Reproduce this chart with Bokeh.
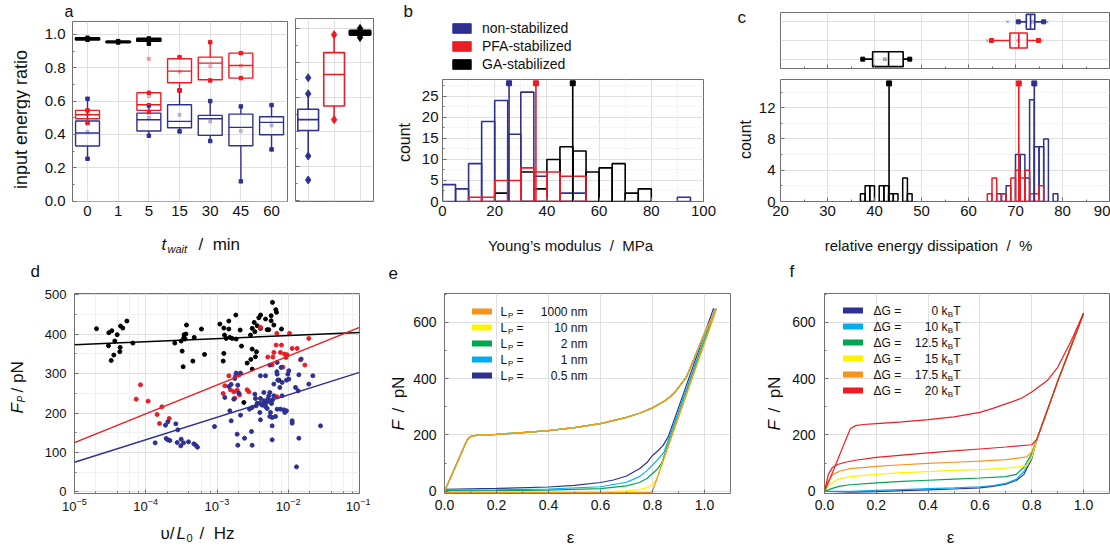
import numpy as np
from math import pi
from bokeh.plotting import figure
from bokeh.layouts import row, column
from bokeh.models import (Range1d, FixedTicker, PrintfTickFormatter, Label, Legend, LegendItem,
                          CustomJSTickFormatter, LogTicker, ColumnDataSource)
from bokeh.embed import file_html
from bokeh.resources import INLINE

FONT = "Liberation Sans"
BLUE = "#2e3192"; RED = "#ed1c24"; BLACK = "#000000"
ORANGE = "#f7941d"; YELLOW = "#fff200"; GREEN = "#00a651"; LBLUE = "#00aeef"
GRID = "#e0e0e0"; MINOR = "#ececec"; OUTLINE = "#707070"; TXT = "#111111"
NB = "\u00a0"

# ---------------- data: panel a (input energy ratio box plots) ----------------
tw_labels = ["0", "1", "5", "15", "30", "45", "60"]
a_blue_cat = [0, 2, 3, 4, 5, 6]
a_blue_q1 = [0.330, 0.420, 0.440, 0.394, 0.332, 0.398]
a_blue_med = [0.408, 0.488, 0.478, 0.494, 0.442, 0.472]
a_blue_q3 = [0.480, 0.528, 0.578, 0.514, 0.522, 0.506]
a_blue_lo = [0.254, 0.392, 0.418, 0.360, 0.118, 0.310]
a_blue_hi = [0.614, 0.574, 0.664, 0.600, 0.568, 0.576]
a_blue_mean = [0.414, 0.500, 0.518, 0.478, 0.420, 0.454]
a_red_cat = [0, 2, 3, 4, 5]
a_red_q1 = [0.494, 0.544, 0.710, 0.728, 0.738]
a_red_med = [0.518, 0.578, 0.780, 0.828, 0.814]
a_red_q3 = [0.544, 0.650, 0.854, 0.864, 0.888]
a_red_lo = [0.468, 0.534, 0.664, 0.724, 0.738]
a_red_hi = [0.544, 0.650, 0.864, 0.954, 0.888]
a_red_mean = [0.520, 0.630, 0.776, 0.810, 0.812]
a_red_out_cat = [2]
a_red_out = [0.854]
a_blk_cat = [0, 1, 2]
a_blk_q1 = [0.968, 0.952, 0.960]
a_blk_med = [0.974, 0.956, 0.968]
a_blk_q3 = [0.980, 0.960, 0.976]
a_blk_lo = [0.968, 0.952, 0.944]
a_blk_hi = [0.980, 0.960, 0.976]
# pooled (side panel): blue, red, black
s_q1 = [0.406, 0.548, 0.962]
s_med = [0.469, 0.731, 0.973]
s_q3 = [0.529, 0.858, 0.985]
s_lo = [0.258, 0.469, 0.946]
s_hi = [0.619, 0.962, 0.998]
s_out_x = [0, 0]
s_out_y = [0.712, 0.119]

# ---------------- data: panel b (Young's modulus histograms, bin 5 MPa) ----------------
b_bin = 5
b_blue_edges = [0, 5, 10, 15, 20, 25, 30, 35, 45, 50, 90]
b_blue_counts = [4, 3, 9, 19, 24, 16, 26, 6, 2, 2, 1]
b_red_edges = [10, 15, 20, 25, 30, 35, 40, 45, 50]
b_red_counts = [1, 1, 5, 5, 8, 7, 7, 6, 6]
b_blk_edges = [20, 30, 35, 40, 45, 50, 55, 60, 65, 70, 75]
b_blk_counts = [2, 7, 3, 10, 13, 12, 7, 8, 9, 2, 3]
b_means = [25.5, 35.8, 49.9]
b_mean_top = 28.1
legend_names = ["non-stabilized", "PFA-stabilized", "GA-stabilized"]

# ---------------- data: panel c (energy dissipation, bin 1 %) ----------------
c_bin = 1
c_blk_edges = [37, 38, 39, 41, 42, 43, 44, 46, 47]
c_blk_counts = [1, 2, 2, 2, 2, 1, 1, 3, 1]
c_blue_edges = [66, 67, 68, 70, 71, 72, 73, 74, 75, 76, 78]
c_blue_counts = [1, 1, 2, 6, 6, 3, 13, 7, 7, 8, 1]
c_red_edges = [64, 65, 67, 69, 70, 71, 72, 73, 74, 75]
c_red_counts = [1, 3, 1, 3, 4, 3, 4, 1, 1, 2]
c_means = [74.0, 70.7, 43.1]          # blue, red, black
c_mean_top = 15.1
cb_row = [3, 2, 1]
cb_lo = [70.6, 64.9, 37.5]
cb_q1 = [72.3, 68.8, 39.6]
cb_med = [73.2, 70.7, 43.0]
cb_q3 = [74.1, 72.5, 46.1]
cb_hi = [76.0, 74.9, 47.5]
cb_mean = [73.6, 70.6, 42.2]
cb_xmin = [68.3, 64.0]
cb_xmax = [76.7, 75.6]

# ---------------- data: panel d (F_P vs v/L0) ----------------
d_blk_logx = [-4.691, -4.518, -4.476, -4.434, -4.401, -4.354, -4.322, -4.265, -4.523, -4.448, -4.485,
              -4.359, -4.364, -4.181, -3.592, -3.503, -3.466, -3.461, -3.428, -3.437, -3.447, -3.320,
              -3.218, -3.489, -3.475, -3.339, -3.175, -2.736, -2.960, -2.904, -2.834, -2.834, -2.895,
              -2.871, -2.820, -2.787, -2.731, -2.675, -2.656, -2.904, -2.913, -2.577, -2.525, -2.506,
              -2.460, -2.446, -2.506, -2.478, -2.436, -2.469, -2.530, -2.389, -2.413, -2.389, -2.319,
              -2.296, -2.240, -2.240, -2.221, -2.174, -2.165, -2.202, -2.273, -2.095, -2.506, -2.623,
              -2.132]
d_blk_F = [413.7, 403.6, 408.6, 382.4, 398.5, 420.5, 415.4, 433.2, 370.6, 346.9, 333.3, 366.3, 355.3,
           377.3, 377.3, 382.4, 390.9, 398.5, 423.0, 400.2, 387.5, 391.7, 412.9, 357.0, 317.3, 331.6,
           348.6, 448.4, 425.5, 415.4, 433.2, 412.9, 397.6, 389.2, 391.7, 389.2, 387.5, 410.3, 369.7,
           351.1, 331.6, 326.6, 335.9, 362.1, 342.6, 355.3, 414.6, 429.8, 421.3, 406.1, 397.6, 414.6,
           441.6, 448.4, 438.2, 411.2, 446.7, 434.0, 480.5, 461.9, 455.2, 423.0, 411.2, 412.9, 311.3,
           226.7, 283.4]
d_red_logx = [-4.074, -4.134, -3.966, -3.774, -3.840, -3.807, -3.671, -2.389, -2.160, -1.982, -1.711,
              -2.170, -2.095, -2.202, -2.287, -2.216, -2.109, -2.053, -2.030, -2.016, -1.945, -1.875,
              -1.828, -1.767, -2.076, -2.226, -2.834, -2.740, -2.693, -2.890, -2.811, -2.764, -2.717,
              -2.684, -2.913, -2.750, -2.577, -2.554, -2.156]
d_red_F = [271.6, 235.2, 230.1, 215.7, 196.3, 173.4, 186.1, 417.1, 401.9, 401.9, 389.2, 372.2, 372.2,
           353.6, 341.8, 341.8, 353.6, 349.4, 340.9, 347.7, 363.8, 363.8, 335.0, 321.5, 316.4, 322.3,
           294.4, 294.4, 296.1, 269.0, 258.9, 253.8, 258.0, 246.2, 249.6, 237.7, 258.9, 253.8, 241.1]
d_blue_logx = [-3.868, -3.723, -3.690, -3.713, -3.690, -3.662, -3.578, -3.550, -3.559, -3.503, -3.508,
               -3.470, -3.400, -3.325, -3.297, -3.274, -3.035, -2.890, -2.834, -2.801, -2.750, -2.731,
               -2.670, -2.708, -2.694, -2.764, -2.820, -2.801, -2.670, -2.717, -2.708, -2.614, -2.516,
               -2.507, -2.544, -2.507, -2.450, -2.399, -2.390, -2.399, -2.390, -2.343, -2.343, -2.469,
               -2.460, -2.436, -2.366, -2.333, -2.305, -2.287, -2.273, -2.259, -2.235, -2.221, -2.319,
               -2.296, -2.249, -2.226, -2.179, -2.390, -2.319, -2.259, -2.156, -2.156, -2.147, -2.100,
               -2.086, -2.118, -2.062, -2.048, -2.025, -2.006, -1.992, -2.025, -1.992, -1.945, -1.945,
               -1.898, -1.861, -1.851, -1.819, -1.711, -1.655, -1.547, -1.884, -2.226, -2.226, -1.851,
               -2.259, -2.202, -2.156, -2.109, -2.259, -2.086, -2.202, -2.160]
d_blue_F = [124.4, 169.2, 177.7, 135.4, 132.0, 130.3, 172.6, 157.4, 125.2, 133.7, 116.8, 124.4, 126.9,
            121.8, 118.4, 113.4, 165.8, 239.4, 267.3, 272.4, 287.6, 301.2, 301.2, 270.7, 250.4, 235.2,
            205.6, 180.2, 194.6, 146.4, 118.4, 136.2, 153.1, 118.4, 209.8, 214.0, 218.3, 201.3, 182.7,
            225.0, 236.9, 231.0, 252.1, 247.9, 236.9, 225.0, 220.0, 222.5, 226.7, 235.2, 243.7, 231.0,
            224.2, 233.5, 216.6, 211.5, 201.3, 188.7, 191.2, 294.4, 294.4, 321.5, 328.2, 298.6, 283.4,
            315.6, 277.5, 264.8, 208.1, 201.3, 205.6, 298.6, 286.0, 283.4, 307.1, 180.2, 174.3, 264.8,
            256.3, 296.9, 336.7, 273.3, 294.4, 167.5, 63.5, 167.5, 132.0, 136.2, 252.1, 243.7, 209.8,
            209.8, 191.2, 243.7, 273.3, 304.6]
d_fit_x = [1e-5, 1e-1]
d_fit_blk = [373, 404]
d_fit_red = [125, 417]
d_fit_blue = [75, 303]

# ---------------- data: panel e (persistence length) ----------------
e_load_eps = [0.0, 0.03, 0.06, 0.08, 0.09, 0.10, 0.12, 0.20, 0.30, 0.40, 0.50, 0.60, 0.70, 0.75, 0.80,
              0.85, 0.88, 0.91, 0.93, 0.96, 1.00, 1.045]
e_load_F = [0, 62, 125, 168, 186, 194, 198, 202, 208, 215, 226, 240, 262, 277, 296, 322, 345, 380, 405,
            470, 560, 648]
e_names = ["1000 nm", "10 nm", "2 nm", "1 nm", "0.5 nm"]
e_un_eps = [
    [1.045, 0.80, 0.79, 0.0],
    [1.045, 0.815, 0.80, 0.78, 0.75, 0.70, 0.60, 0.40, 0.0],
    [1.043, 0.835, 0.82, 0.80, 0.78, 0.75, 0.70, 0.60, 0.40, 0.20, 0.0],
    [1.040, 0.845, 0.82, 0.80, 0.78, 0.75, 0.70, 0.60, 0.40, 0.20, 0.0],
    [1.035, 0.86, 0.84, 0.82, 0.80, 0.78, 0.75, 0.70, 0.65, 0.60, 0.50, 0.40, 0.20, 0.0],
]
e_un_F = [
    [645, 0, -5, -5],
    [645, 40, 24, 13, 6, 1, -2, -3, -3],
    [645, 100, 80, 63, 46, 31, 19, 9, 4, 2, 1],
    [647, 140, 112, 93, 74, 52, 32, 16, 8, 5, 3],
    [650, 192, 162, 143, 127, 103, 80, 54, 40, 31, 21, 15, 10, 7],
]

# ---------------- data: panel f (binding energy) ----------------
f_names = ["0", "10", "12.5", "15", "17.5", "20"]
f_eps = [
    [0.0, 0.10, 0.20, 0.30, 0.40, 0.50, 0.60, 0.65, 0.70, 0.74, 0.77, 0.80, 0.82, 0.85, 0.90, 0.95, 1.0],
    [0.0, 0.10, 0.20, 0.30, 0.40, 0.50, 0.60, 0.65, 0.70, 0.74, 0.77, 0.80, 0.82, 0.85, 0.90, 0.95, 1.0],
    [0.0, 0.03, 0.06, 0.10, 0.20, 0.30, 0.40, 0.50, 0.60, 0.70, 0.74, 0.77, 0.80, 0.82, 0.85, 0.90, 0.95, 1.0],
    [0.0, 0.02, 0.05, 0.10, 0.20, 0.30, 0.40, 0.50, 0.60, 0.70, 0.78, 0.80, 0.82, 0.85, 0.90, 0.95, 1.0],
    [0.0, 0.01, 0.03, 0.06, 0.10, 0.20, 0.30, 0.40, 0.50, 0.60, 0.70, 0.78, 0.80, 0.82, 0.85, 0.90, 0.95, 1.0],
]
f_F = [
    [0, -3, -1, 2, 5, 8, 12, 17, 25, 38, 60, 115, 185, 262, 390, 510, 632],
    [0, 0, 3, 6, 9, 12, 16, 20, 28, 42, 70, 125, 185, 262, 390, 510, 632],
    [0, 10, 18, 23, 30, 35, 39, 43, 47, 52, 60, 85, 135, 185, 262, 390, 510, 632],
    [0, 25, 42, 52, 60, 66, 70, 74, 77, 82, 90, 120, 185, 262, 390, 510, 632],
    [0, 30, 58, 72, 80, 88, 94, 99, 103, 107, 112, 122, 140, 185, 262, 390, 510, 632],
]
f_red_load_eps = [0.0, 0.02, 0.05, 0.08, 0.10, 0.12, 0.15, 0.20, 0.30, 0.40, 0.50, 0.60, 0.65, 0.70,
                  0.76, 0.80, 0.86, 0.90, 0.95, 1.00]
f_red_load_F = [0, 42, 110, 178, 222, 233, 237, 240, 246, 254, 264, 280, 294, 310, 330, 352, 393, 440,
                530, 632]
f_red_un_eps = [1.0, 0.95, 0.90, 0.85, 0.82, 0.80, 0.70, 0.60, 0.50, 0.40, 0.30, 0.20, 0.12, 0.08,
                0.05, 0.03, 0.015, 0.0]
f_red_un_F = [632, 510, 390, 262, 185, 165, 157, 150, 143, 136, 128, 120, 110, 103, 95, 84, 60, 0]


# ---------------- helpers ----------------
def mkfig(w, h, l, r, t, b, xr, yr, tick_px=15, **kw):
    p = figure(width=w, height=h, x_range=xr, y_range=yr, output_backend="svg",
               toolbar_location=None, min_border_left=l, min_border_right=r,
               min_border_top=t, min_border_bottom=b, **kw)
    p.outline_line_color = OUTLINE
    p.outline_line_width = 1
    p.background_fill_color = "white"
    p.border_fill_color = "white"
    for ax in p.axis:
        ax.axis_line_color = None
        ax.major_tick_in = 4
        ax.major_tick_out = 0
        ax.minor_tick_in = 2
        ax.minor_tick_out = 0
        ax.major_tick_line_color = OUTLINE
        ax.minor_tick_line_color = OUTLINE
        ax.major_label_text_font = FONT
        ax.major_label_text_font_size = f"{tick_px}px"
        ax.major_label_text_color = TXT
    p.xgrid.grid_line_color = GRID
    p.ygrid.grid_line_color = GRID
    return p


def tfig(w, h, t=0, b=0):
    """text-only figure (no axes, no grid); labels must lie inside its frame"""
    p = figure(width=w, height=h, x_range=Range1d(0, 1), y_range=Range1d(0, 1),
               output_backend="svg", toolbar_location=None, x_axis_location=None,
               y_axis_location=None, min_border_left=0, min_border_right=0,
               min_border_top=t, min_border_bottom=b)
    p.outline_line_color = None
    p.background_fill_color = "white"
    p.border_fill_color = "white"
    p.grid.grid_line_color = None
    p.grid.visible = False
    return p


def plab(p, fl, fb, px, py, text, size=16, style="normal", angle=0.0, align="left",
         baseline="alphabetic"):
    """label at page pixel (px, py); (fl, fb) = page position of frame left / frame bottom"""
    p.add_layout(Label(x=px - fl, y=fb - py, x_units="screen", y_units="screen", text=text,
                       angle=angle, text_font=FONT, text_font_size=f"{size}px",
                       text_font_style=style, text_align=align, text_baseline=baseline,
                       text_color=TXT))


def vboxes(p, xs, q1, med, q3, lo, hi, color, w, lw=1.4, cap="square", cap_size=3.5):
    src = ColumnDataSource(dict(x=xs, q1=q1, med=med, q3=q3, lo=lo, hi=hi,
                                l=[x - w / 2 for x in xs], r=[x + w / 2 for x in xs]))
    p.segment(x0="x", y0="q3", x1="x", y1="hi", source=src, line_color=color, line_width=lw)
    p.segment(x0="x", y0="q1", x1="x", y1="lo", source=src, line_color=color, line_width=lw)
    p.quad(left="l", right="r", bottom="q1", top="q3", source=src, fill_color=None,
           line_color=color, line_width=lw)
    p.segment(x0="l", y0="med", x1="r", y1="med", source=src, line_color=color, line_width=lw)
    p.scatter(x="x", y="hi", source=src, marker=cap, size=cap_size, color=color)
    p.scatter(x="x", y="lo", source=src, marker=cap, size=cap_size, color=color)


def hist(p, edges, counts, width, color, lw=1.6):
    p.quad(left=edges, right=[e + width for e in edges], bottom=0, top=counts,
           fill_color=None, line_color=color, line_width=lw)


# ======================= TOP ROW (height 262) =======================
# ---- panel a ----
a_top = tfig(290, 20)
plab(a_top, 0, 20, 64, 11, "a", size=16, baseline="middle")
a_left = tfig(30, 210, t=1, b=29)
plab(a_left, 0, 201, 20, 119, "input energy ratio", size=18, angle=pi / 2, align="center",
     baseline="middle")
a_bot = tfig(290, 32)
plab(a_bot, 0, 262, 161, 244, "t", size=17, style="italic")
plab(a_bot, 0, 262, 167, 248, "wait", size=11, style="italic")
plab(a_bot, 0, 262, 198, 244, "/" + NB + NB + "min", size=17)

pa = mkfig(260, 210, 42, 3, 1, 29, Range1d(-0.49, 6.52), Range1d(-0.003, 1.078))
pa.xaxis.ticker = FixedTicker(ticks=list(range(len(tw_labels))))
pa.xaxis.major_label_overrides = {i: t for i, t in enumerate(tw_labels)}
pa.xaxis.major_tick_in = 0
pa.xaxis.major_label_standoff = 4
pa.yaxis.ticker = FixedTicker(ticks=[0, 0.2, 0.4, 0.6, 0.8, 1.0],
                              minor_ticks=[0.1, 0.3, 0.5, 0.7, 0.9])
pa.yaxis.formatter = PrintfTickFormatter(format="%.1f")
pa.yaxis.major_label_standoff = 7
BW = 0.78
vboxes(pa, a_blue_cat, a_blue_q1, a_blue_med, a_blue_q3, a_blue_lo, a_blue_hi, BLUE, BW)
pa.scatter(a_blue_cat, a_blue_mean, marker="square", size=3, color=BLUE, alpha=0.25)
vboxes(pa, a_red_cat, a_red_q1, a_red_med, a_red_q3, a_red_lo, a_red_hi, RED, BW)
pa.scatter(a_red_cat, a_red_mean, marker="square", size=3, color=RED, alpha=0.25)
pa.scatter(a_red_out_cat, a_red_out, marker="square", size=3, color=RED, alpha=0.35)
vboxes(pa, a_blk_cat, a_blk_q1, a_blk_med, a_blk_q3, a_blk_lo, a_blk_hi, BLACK, BW, lw=1.8)

# side panel
pas = mkfig(88, 262, 5, 5, 18, 61, Range1d(-0.49, 2.52), Range1d(-0.006, 1.056))
pas.xaxis.visible = False
pas.xgrid.ticker = FixedTicker(ticks=[0, 1, 2])
pas.yaxis.ticker = FixedTicker(ticks=[0, 0.2, 0.4, 0.6, 0.8, 1.0],
                               minor_ticks=[0.1, 0.3, 0.5, 0.7, 0.9])
pas.yaxis.formatter = CustomJSTickFormatter(code="return ''")
pas.yaxis.major_label_standoff = 0
side_cols = [BLUE, RED, BLACK]
for i in range(3):
    vboxes(pas, [i], [s_q1[i]], [s_med[i]], [s_q3[i]], [s_lo[i]], [s_hi[i]], side_cols[i], 0.8,
           lw=1.6 if i < 2 else 2.4, cap="diamond", cap_size=8)
pas.scatter(s_out_x, s_out_y, marker="diamond", size=8, color=BLUE)

# ---- panel b ----
b_top = tfig(342, 78)
plab(b_top, 378, 78, 403, 11, "b", size=17, baseline="middle")
leg_src = [(b_blue_edges, b_blue_counts, BLUE), (b_red_edges, b_red_counts, RED),
           (b_blk_edges, b_blk_counts, BLACK)]
items = []
for (edges, counts, col), name in zip(leg_src, legend_names):
    r = b_top.quad(left=edges, right=[e + b_bin for e in edges], bottom=0, top=counts,
                   fill_color=col, line_color=col, visible=False)
    items.append(LegendItem(label=name, renderers=[r]))
b_top.add_layout(Legend(items=items, location=(72, 6), glyph_width=23, glyph_height=12,
                        label_height=17, spacing=1, padding=0, margin=0, label_standoff=9,
                        border_line_color=None, background_fill_alpha=0, label_text_font=FONT,
                        label_text_font_size="14px", label_text_color=TXT,
                        inactive_fill_alpha=0), "center")
b_left = tfig(34, 150, t=1, b=27)
plab(b_left, 378, 201, 404, 142, "count", size=16, angle=pi / 2, align="center",
     baseline="middle")
b_bot = tfig(342, 34)
plab(b_bot, 378, 262, 570, 245, "Young\u2019s modulus" + NB + NB + "/" + NB + NB + "MPa", size=15,
     align="center")

pb = mkfig(308, 150, 30, 17, 1, 27, Range1d(0, 100), Range1d(0, 29))
pb.xaxis.ticker = FixedTicker(ticks=[0, 20, 40, 60, 80, 100], minor_ticks=[10, 30, 50, 70, 90])
pb.yaxis.ticker = FixedTicker(ticks=[0, 5, 10, 15, 20, 25],
                              minor_ticks=[2.5, 7.5, 12.5, 17.5, 22.5, 27.5])
pb.xaxis.major_label_standoff = 4
pb.yaxis.major_label_standoff = 4
pb.xgrid.minor_grid_line_color = MINOR
pb.xgrid.minor_grid_line_dash = "2 2"
pb.ygrid.minor_grid_line_color = MINOR
pb.ygrid.minor_grid_line_dash = "2 2"
for edges, counts, col in [(b_blk_edges, b_blk_counts, BLACK), (b_blue_edges, b_blue_counts, BLUE),
                           (b_red_edges, b_red_counts, RED)]:
    hist(pb, edges, counts, b_bin, col)
b_cols = [BLUE, RED, BLACK]
pb.segment(x0=b_means, y0=[0] * 3, x1=b_means, y1=[b_mean_top] * 3, line_color=b_cols,
           line_width=1.6)
pb.scatter(b_means, [b_mean_top] * 3, marker="square", size=5, color=b_cols)

# ---- panel c ----
c_left1 = tfig(34, 75, t=12, b=7)
plab(c_left1, 720, 68, 737, 17, "c", size=17, baseline="middle")
c_left2 = tfig(34, 153, t=4, b=27)
plab(c_left2, 720, 201, 745, 139, "count", size=16, angle=pi / 2, align="center",
     baseline="middle")
c_bot = tfig(390, 34)
plab(c_bot, 720, 262, 928, 245,
     "relative energy dissipation" + NB + NB + "/" + NB + NB + "%", size=15, align="center")

pct = mkfig(356, 75, 26, 1, 12, 7, Range1d(20, 90), Range1d(0.5, 3.5))
pct.yaxis.visible = False
pct.ygrid.ticker = FixedTicker(ticks=[1, 2, 3])
pct.xaxis.ticker = FixedTicker(ticks=list(range(20, 91, 10)), minor_ticks=list(range(25, 90, 10)))
pct.xaxis.formatter = CustomJSTickFormatter(code="return ''")
pct.xaxis.major_label_standoff = 0
c_cols = [BLUE, RED, BLACK]
BH = 0.8
for i in range(3):
    y = cb_row[i]
    col = c_cols[i]
    pct.segment(x0=[cb_lo[i], cb_q3[i]], y0=[y, y], x1=[cb_q1[i], cb_hi[i]], y1=[y, y],
                line_color=col, line_width=1.6)
    pct.quad(left=[cb_q1[i]], right=[cb_q3[i]], bottom=[y - BH / 2], top=[y + BH / 2],
             fill_color=None, line_color=col, line_width=1.6)
    pct.segment(x0=[cb_med[i]], y0=[y - BH / 2], x1=[cb_med[i]], y1=[y + BH / 2],
                line_color=col, line_width=1.6)
    pct.scatter([cb_lo[i], cb_hi[i]], [y, y], marker="square", size=4, color=col)
    pct.scatter([cb_mean[i]], [y], marker="square", size=3, color=col, alpha=0.25)
for i in range(2):
    y = cb_row[i]
    pct.scatter([cb_xmin[i], cb_xmax[i]], [y, y], marker="x", size=4, color=c_cols[i], alpha=0.5)

pcb = mkfig(356, 153, 26, 1, 4, 27, Range1d(20, 90), Range1d(0, 15.6))
pcb.xaxis.ticker = FixedTicker(ticks=list(range(20, 91, 10)), minor_ticks=list(range(25, 90, 10)))
pcb.yaxis.ticker = FixedTicker(ticks=[0, 4, 8, 12], minor_ticks=[2, 6, 10, 14])
pcb.xaxis.major_label_standoff = 4
pcb.yaxis.major_label_standoff = 5
pcb.ygrid.minor_grid_line_color = MINOR
pcb.ygrid.minor_grid_line_dash = "2 2"
for edges, counts, col in [(c_blk_edges, c_blk_counts, BLACK), (c_blue_edges, c_blue_counts, BLUE),
                           (c_red_edges, c_red_counts, RED)]:
    hist(pcb, edges, counts, c_bin, col, lw=1.5)
pcb.segment(x0=c_means, y0=[0] * 3, x1=c_means, y1=[c_mean_top] * 3, line_color=c_cols,
            line_width=1.6)
pcb.scatter(c_means, [c_mean_top] * 3, marker="square", size=5, color=c_cols)

# ======================= BOTTOM ROW (height 287) =======================
# ---- panel d ----
d_top = tfig(370, 26)
plab(d_top, 0, 288, 30, 271, "d", size=17, baseline="middle")
d_left = tfig(40, 232, t=5, b=27)
plab(d_left, 0, 493, 17, 413, "F", size=17, style="italic", angle=pi / 2, baseline="middle")
plab(d_left, 0, 493, 21, 402, "P", size=10, style="italic", angle=pi / 2, baseline="middle")
plab(d_left, 0, 493, 17, 392, "/ pN", size=17, angle=pi / 2, baseline="middle")
d_bot = tfig(370, 29)
plab(d_bot, 0, 549, 160, 533, "\u03c5/", size=17)
plab(d_bot, 0, 549, 176, 533, "L", size=17, style="italic")
plab(d_bot, 0, 549, 186, 537, "0", size=11)
plab(d_bot, 0, 549, 199, 533, "/" + NB + NB + "Hz", size=17)

pd = mkfig(330, 232, 34, 11, 5, 27, Range1d(1e-5, 1e-1), Range1d(-4, 503), tick_px=13,
           x_axis_type="log")
pd.xaxis.ticker = LogTicker(desired_num_ticks=5)
pd.yaxis.ticker = FixedTicker(ticks=[0, 100, 200, 300, 400, 500],
                              minor_ticks=[50, 150, 250, 350, 450])
pd.xaxis.major_label_standoff = 4
pd.yaxis.major_label_standoff = 8
pd.xgrid.minor_grid_line_color = "#f1f1f1"
pd.ygrid.minor_grid_line_color = "#f1f1f1"
pd.scatter([10 ** v for v in d_blk_logx], d_blk_F, size=4, color=BLACK)
pd.scatter([10 ** v for v in d_red_logx], d_red_F, size=4, color=RED)
pd.scatter([10 ** v for v in d_blue_logx], d_blue_F, size=4, color=BLUE)
pd.line(d_fit_x, d_fit_blk, line_color=BLACK, line_width=1.5)
pd.line(d_fit_x, d_fit_red, line_color=RED, line_width=1.5)
pd.line(d_fit_x, d_fit_blue, line_color=BLUE, line_width=1.5)

# ---- panel e ----
e_top = tfig(370, 30)
plab(e_top, 370, 292, 388, 272, "e", size=17, baseline="middle")
e_left = tfig(40, 228, t=1, b=27)
plab(e_left, 370, 493, 398, 430, "F", size=17, style="italic", angle=pi / 2, baseline="middle")
plab(e_left, 370, 493, 398, 412, "/" + NB + NB + "pN", size=17, angle=pi / 2, baseline="middle")
e_bot = tfig(370, 29)
plab(e_bot, 370, 549, 570, 537, "\u03b5", size=17, align="center")

pe = mkfig(330, 228, 34, 10, 1, 27, Range1d(0, 1.1), Range1d(-8, 702), tick_px=14)
pe.xaxis.ticker = FixedTicker(ticks=[0, 0.2, 0.4, 0.6, 0.8, 1.0],
                              minor_ticks=[0.1, 0.3, 0.5, 0.7, 0.9])
pe.xaxis.formatter = PrintfTickFormatter(format="%.1f")
pe.yaxis.ticker = FixedTicker(ticks=[0, 200, 400, 600], minor_ticks=[100, 300, 500, 700])
pe.xaxis.major_label_standoff = 6
pe.yaxis.major_label_standoff = 8
e_cols = [ORANGE, YELLOW, GREEN, LBLUE, BLUE]
for i in reversed(range(5)):
    pe.line(e_load_eps, e_load_F, line_color=e_cols[i], line_width=1.2)
    pe.line(e_un_eps[i], e_un_F[i], line_color=e_cols[i], line_width=1.2)
e_items = []
for i in range(5):
    r = pe.line(e_load_eps, e_load_F, line_color=e_cols[i], line_width=6, line_cap="round",
                visible=False)
    e_items.append(LegendItem(label=" ", renderers=[r]))
pe.add_layout(Legend(items=e_items, location=(28, 110), glyph_width=20, glyph_height=16,
                     label_height=16, label_width=1, spacing=0, padding=0, margin=0,
                     border_line_color=None, background_fill_alpha=0, inactive_fill_alpha=0,
                     label_text_font_size="10px"), "center")
for i, name in enumerate(e_names):
    yc = 311 + 16 * i
    plab(pe, 444, 493, 500, yc, "L", size=12, baseline="middle")
    plab(pe, 444, 493, 507.5, yc + 4, "P", size=8, baseline="middle")
    plab(pe, 444, 493, 516, yc, "=", size=12, baseline="middle")
    plab(pe, 444, 493, 587, yc, name, size=12, baseline="middle", align="right")

# ---- panel f ----
f_top = tfig(370, 30)
plab(f_top, 740, 292, 789, 271, "f", size=17, baseline="middle")
f_left = tfig(48, 228, t=1, b=27)
plab(f_left, 740, 493, 774, 430, "F", size=17, style="italic", angle=pi / 2, baseline="middle")
plab(f_left, 740, 493, 774, 412, "/" + NB + NB + "pN", size=17, angle=pi / 2, baseline="middle")
f_bot = tfig(370, 29)
plab(f_bot, 740, 549, 950, 537, "\u03b5", size=17, align="center")

pf = mkfig(322, 228, 36, 1, 1, 27, Range1d(0, 1.1), Range1d(-8, 702), tick_px=14)
pf.xaxis.ticker = FixedTicker(ticks=[0, 0.2, 0.4, 0.6, 0.8, 1.0],
                              minor_ticks=[0.1, 0.3, 0.5, 0.7, 0.9])
pf.xaxis.formatter = PrintfTickFormatter(format="%.1f")
pf.yaxis.ticker = FixedTicker(ticks=[0, 200, 400, 600], minor_ticks=[100, 300, 500, 700])
pf.xaxis.major_label_standoff = 6
pf.yaxis.major_label_standoff = 9
f_cols = [BLUE, LBLUE, GREEN, YELLOW, ORANGE, RED]
for i in range(5):
    pf.line(f_eps[i], f_F[i], line_color=f_cols[i], line_width=1.2)
pf.line(f_red_un_eps, f_red_un_F, line_color=RED, line_width=1.2)
pf.line(f_red_load_eps, f_red_load_F, line_color=RED, line_width=1.2)
f_items = []
for i in range(6):
    r = pf.line(f_red_load_eps, f_red_load_F, line_color=f_cols[i], line_width=6,
                line_cap="round", visible=False)
    f_items.append(LegendItem(label=" ", renderers=[r]))
pf.add_layout(Legend(items=f_items, location=(19, 95), glyph_width=20, glyph_height=16,
                     label_height=16, label_width=1, spacing=0, padding=0, margin=0,
                     border_line_color=None, background_fill_alpha=0, inactive_fill_alpha=0,
                     label_text_font_size="10px"), "center")
for i, name in enumerate(f_names):
    yc = 310 + 16 * i
    plab(pf, 824, 493, 873, yc, "\u0394G =", size=12, baseline="middle")
    plab(pf, 824, 493, 947, yc, name + " k", size=12, baseline="middle", align="right")
    plab(pf, 824, 493, 952.5, yc + 4, "B", size=8, baseline="middle", align="right")
    plab(pf, 824, 493, 960, yc, "T", size=12, baseline="middle", align="right")

# ======================= layout =======================
A = column(a_top, row(a_left, pa), a_bot)
B = column(b_top, row(b_left, pb), b_bot)
C = column(row(c_left1, pct), row(c_left2, pcb), c_bot)
D = column(d_top, row(d_left, pd), d_bot)
E = column(e_top, row(e_left, pe), e_bot)
F = column(f_top, row(f_left, pf), f_bot)
layout = column(row(A, pas, B, C), row(D, E, F))
open("out.html", "w").write(file_html(layout, INLINE))
